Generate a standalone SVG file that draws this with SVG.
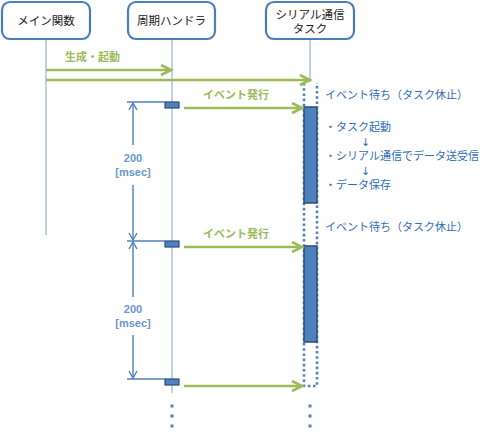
<svg xmlns="http://www.w3.org/2000/svg" width="500" height="445" viewBox="0 0 500 445">
<defs>
<style>
.box{fill:#fff;stroke:#4a7ebb;stroke-width:2.2}
.bt{font-family:"Liberation Sans","Noto Sans CJK JP",sans-serif;font-size:11.5px;fill:#222;text-anchor:middle}
.life{stroke:#95b3d7;stroke-width:1.2;fill:none}
.msg{stroke:#9bbb59;stroke-width:2.6;fill:none}
.gl{font-family:"Noto Sans CJK JP","Noto Sans",sans-serif;font-size:11px;font-weight:bold;fill:#9bbb59}
.bl{font-family:"Liberation Sans","Noto Sans CJK JP",sans-serif;font-size:11px;fill:#2f6db5}
.ar{font-family:"DejaVu Sans",sans-serif;font-size:11px;fill:#2f6db5}
.dim{stroke:#4f81bd;stroke-width:1.4;fill:none}
.dl{font-family:"Liberation Sans",Arial,sans-serif;font-size:11px;font-weight:bold;fill:#6a96cc;text-anchor:middle}
.act{fill:#4f81bd;stroke:#2c4d75;stroke-width:1.5}
.tick{fill:#4f81bd;stroke:#2c4d75;stroke-width:1.2}
.dot{stroke:#4f81bd;stroke-width:2.6;stroke-dasharray:2.6 2.6;fill:none}
.d{fill:#4f81bd}
</style>
<marker id="ga" markerUnits="userSpaceOnUse" markerWidth="14" markerHeight="14" refX="11" refY="6" orient="auto">
<path d="M1,1 L11,6 L1,11" fill="none" stroke="#9bbb59" stroke-width="2.6"/>
</marker>
<marker id="ba" markerUnits="userSpaceOnUse" markerWidth="12" markerHeight="12" refX="8" refY="5" orient="auto">
<path d="M1,1 L8,5 L1,9" fill="none" stroke="#4f81bd" stroke-width="1.4"/>
</marker>
</defs>

<g id="lifelines">
<line class="life" x1="46" y1="40" x2="46" y2="235"/>
<line class="life" x1="172" y1="40" x2="172" y2="393"/>
<line class="life" x1="310" y1="40" x2="310" y2="82"/>
</g>

<g id="node-main">
<rect class="box" x="2" y="2" width="88" height="37" rx="8"/>
<text class="bt" x="46" y="25">メイン関数</text>
</g>
<g id="node-handler">
<rect class="box" x="128" y="2" width="87" height="37" rx="8"/>
<text class="bt" x="171.5" y="25">周期ハンドラ</text>
</g>
<g id="node-serial">
<rect class="box" x="266" y="2" width="88" height="37" rx="8"/>
<text class="bt" x="310" y="18.5">シリアル通信</text>
<text class="bt" x="310" y="33">タスク</text>
</g>

<g id="serial-task">
<path class="dot" d="M304,83 V386 H317 V83"/>
<rect class="act" x="304" y="107" width="13" height="96"/>
<rect class="act" x="304" y="246" width="13" height="96"/>
</g>

<g id="handler-ticks">
<rect class="tick" x="165" y="102" width="14" height="6"/>
<rect class="tick" x="165" y="241" width="14" height="6"/>
<rect class="tick" x="165" y="379" width="14" height="6"/>
</g>

<g id="connectors">
<line class="msg" x1="46" y1="70" x2="171" y2="70" marker-end="url(#ga)"/>
<line class="msg" x1="46" y1="80" x2="310" y2="80" marker-end="url(#ga)"/>
<line class="msg" x1="184" y1="108" x2="302" y2="108" marker-end="url(#ga)"/>
<line class="msg" x1="184" y1="247" x2="302" y2="247" marker-end="url(#ga)"/>
<line class="msg" x1="184" y1="386" x2="302" y2="386" marker-end="url(#ga)"/>
<line class="dim" x1="127" y1="102" x2="165" y2="102"/>
<line class="dim" x1="127" y1="241" x2="165" y2="241"/>
<line class="dim" x1="127" y1="379" x2="165" y2="379"/>
<line class="dim" x1="133" y1="145" x2="133" y2="103" marker-end="url(#ba)"/>
<line class="dim" x1="133" y1="185" x2="133" y2="240" marker-end="url(#ba)"/>
<line class="dim" x1="133" y1="297" x2="133" y2="242" marker-end="url(#ba)"/>
<line class="dim" x1="133" y1="335" x2="133" y2="378" marker-end="url(#ba)"/>
</g>

<g id="labels">
<text class="gl" x="65" y="61">生成・起動</text>
<text class="gl" x="203" y="99">イベント発行</text>
<text class="gl" x="203" y="238">イベント発行</text>
<text class="bl" x="325" y="99">イベント待ち（タスク休止）</text>
<text class="bl" x="325" y="231">イベント待ち（タスク休止）</text>
<text class="bl" x="325" y="131">・タスク起動</text>
<text class="ar" x="361" y="146">↓</text>
<text class="bl" x="325" y="160">・シリアル通信でデータ送受信</text>
<text class="ar" x="361" y="175">↓</text>
<text class="bl" x="325" y="189">・データ保存</text>
<text class="dl" x="133" y="162">200</text>
<text class="dl" x="133" y="176">[msec]</text>
<text class="dl" x="133" y="313">200</text>
<text class="dl" x="133" y="327">[msec]</text>
</g>

<g id="continuation">
<rect class="d" x="170.5" y="404.5" width="3" height="3"/>
<rect class="d" x="170.5" y="414.5" width="3" height="3"/>
<rect class="d" x="170.5" y="424.5" width="3" height="3"/>
<rect class="d" x="308.5" y="404.5" width="3" height="3"/>
<rect class="d" x="308.5" y="414.5" width="3" height="3"/>
<rect class="d" x="308.5" y="424.5" width="3" height="3"/>
</g>
</svg>
